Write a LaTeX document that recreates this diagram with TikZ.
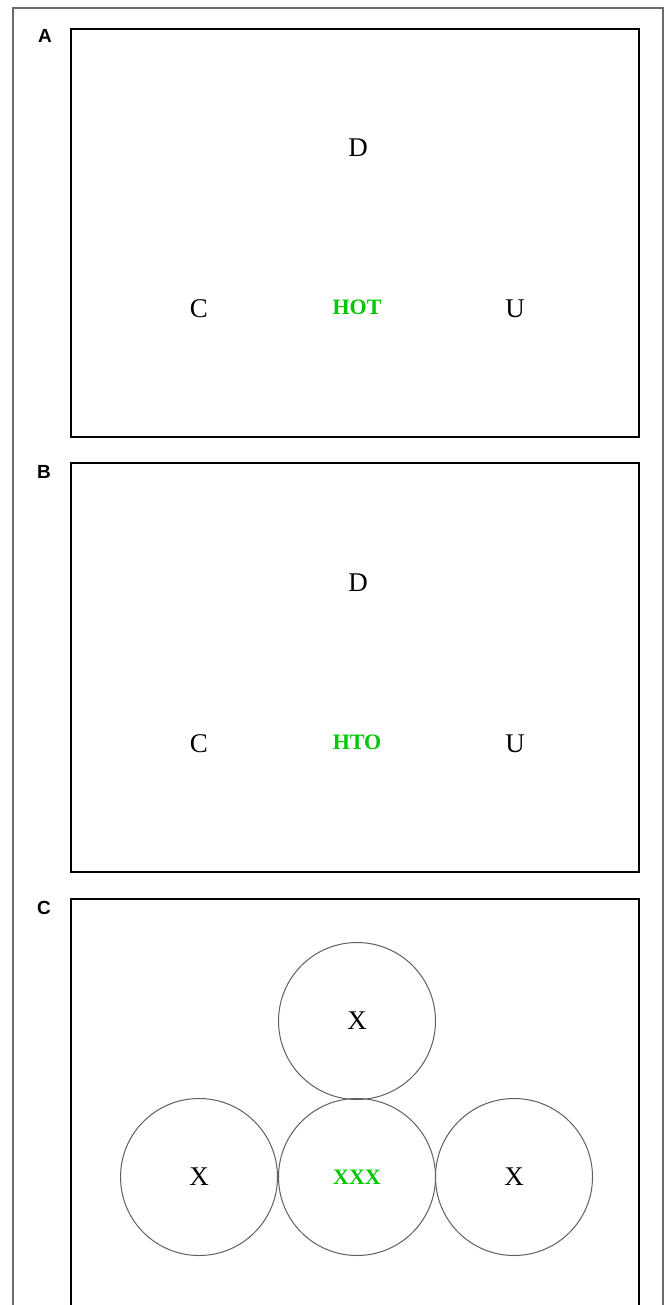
\documentclass[tikz,border=0pt]{standalone}
\usepackage{fontspec}
\setmainfont{Liberation Serif}
\newfontfamily\panelfont{Liberation Sans}
\usepackage{xcolor}
\usepackage{tikz}
\usetikzlibrary{positioning}
\definecolor{hotgreen}{HTML}{00C800}
\definecolor{framegray}{HTML}{6A6A6A}
\definecolor{ringgray}{HTML}{606060}

\begin{document}
\begin{tikzpicture}[
    x=1pt, y=-1pt,
    panel/.style={draw=black, line width=1.7pt},
    tag/.style={font=\panelfont\bfseries\fontsize{19}{19}\selectfont, inner sep=0pt},
    word/.style={font=\fontsize{27}{27}\selectfont, inner sep=0pt},
    target/.style={font=\bfseries\fontsize{22}{22}\selectfont, text=hotgreen, inner sep=0pt},
    ring/.style={draw=ringgray, line width=1pt, circle, minimum size=157pt, inner sep=0pt}
]
    \useasboundingbox (0,0) rectangle (667,1305);
    \clip (0,0) rectangle (667,1305);
    \fill[white] (0,0) rectangle (667,1305);
    \draw[framegray, line width=1.2pt] (13,1320) -- (13,8) -- (663,8) -- (663,1320);

    % Panel A
    \draw[panel] (71,29) rectangle (639,437);
    \node[tag] (taga) at (45,36) {A};
    \node[word] (da) at (358,148) {D};
    \node[word] (ca) at (199,309) {C};
    \node[target] (hot) at (357,307) {HOT};
    \node[word] (ua) at (515,309) {U};

    % Panel B
    \draw[panel] (71,463) rectangle (639,872);
    \node[tag] (tagb) at (44,472) {B};
    \node[word] (db) at (358,583) {D};
    \node[word] (cb) at (199,744) {C};
    \node[target] (hto) at (357,742) {HTO};
    \node[word] (ub) at (515,744) {U};

    % Panel C
    \draw[panel] (71,1320) -- (71,899) -- (639,899) -- (639,1320);
    \node[tag] (tagc) at (44,908) {C};
    \node[ring, font=\fontsize{27}{27}\selectfont] (xtop) at (357,1021) {X};
    \node[ring, font=\fontsize{27}{27}\selectfont] (xleft) at (199,1177) {X};
    \node[ring, font=\bfseries\fontsize{22}{22}\selectfont, text=hotgreen] (xmid) at (357,1177) {XXX};
    \node[ring, font=\fontsize{27}{27}\selectfont] (xright) at (514,1177) {X};
\end{tikzpicture}
\end{document}
